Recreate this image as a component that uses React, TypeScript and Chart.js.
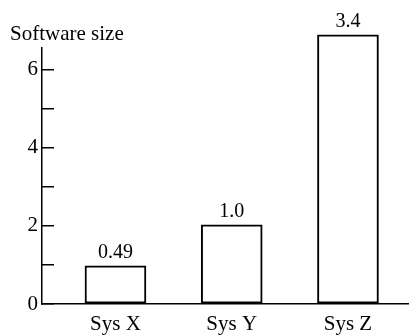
import React, { useEffect, useRef } from "react";
import { Chart, registerables } from "chart.js";
Chart.register(...registerables);

const categories = ["Sys X", "Sys Y", "Sys Z"];
const barValues = [0.98, 2.03, 6.9];
const barLabels = ["0.49", "1.0", "3.4"];
const yTickValues = [0, 1, 2, 3, 4, 5, 6];
const yTickLabelValues = [0, 2, 4, 6];
const yAxisTitle = "Software size";

export default function App() {
  const ref = useRef<HTMLCanvasElement>(null);
  useEffect(() => {
    const family = "'Liberation Serif', 'Times New Roman', serif";
    const barLabelPlugin = {
      id: "barLabels",
      afterDatasetsDraw(chart: any) {
        const ctx = chart.ctx;
        const meta = chart.getDatasetMeta(0);
        ctx.save();
        ctx.font = `20px ${family}`;
        ctx.fillStyle = "#000";
        ctx.textAlign = "center";
        ctx.textBaseline = "alphabetic";
        meta.data.forEach((el: any, i: number) => {
          ctx.fillText(barLabels[i], el.x, el.y - 8);
        });
        ctx.restore();
      },
    };
    const chart = new Chart(ref.current as HTMLCanvasElement, {
      type: "bar",
      data: {
        datasets: [
          {
            data: categories.map((c, i) => ({ x: i, y: barValues[i] })),
            backgroundColor: "#ffffff",
            borderColor: "#000000",
            borderWidth: 2,
            borderSkipped: false,
            barThickness: 61,
            clip: false as any,
          } as any,
        ],
      },
      options: {
        responsive: false,
        animation: false,
        layout: { padding: { left: 10, right: 0, top: 0, bottom: 0 } },
        plugins: {
          legend: { display: false },
          tooltip: { enabled: false },
          title: {
            display: true,
            text: yAxisTitle,
            align: "start",
            color: "#000",
            font: { family, size: 21, weight: "normal" as any },
            padding: { top: 21.5, bottom: 1.3 },
          },
        },
        scales: {
          x: {
            type: "linear",
            offset: false,
            min: -0.632,
            max: 2.525,
            afterBuildTicks: (s: any) => {
              s.ticks = categories.map((c, i) => ({ value: i }));
            },
            afterFit: (s: any) => {
              s.height = 32;
            },
            ticks: {
              autoSkip: false,
              maxRotation: 0,
              padding: 8,
              color: "#000",
              font: { family, size: 21 },
              callback: (v: any) => categories[Math.round(Number(v))] ?? "",
            },
            grid: { display: true, offset: false, drawOnChartArea: false, drawTicks: false },
            border: { color: "#000", width: 1.5 },
          },
          y: {
            min: 0,
            max: 6.56,
            afterBuildTicks: (s: any) => {
              s.ticks = yTickValues.map((v) => ({ value: v }));
            },
            afterFit: (s: any) => {
              s.width = 32;
            },
            ticks: {
              padding: 16,
              color: "#000",
              font: { family, size: 21 },
              callback: (v: any) => (yTickLabelValues.includes(Number(v)) ? String(v) : ""),
            },
            grid: {
              display: true,
              drawOnChartArea: false,
              drawTicks: true,
              tickLength: -12,
              color: "#000",
              lineWidth: 1.5,
            },
            border: { color: "#000", width: 1.5 },
          },
        },
      },
      plugins: [barLabelPlugin],
    });
    return () => chart.destroy();
  }, []);
  return (
    <div style={{ position: "absolute", left: 0, top: 0, width: 409, height: 336, background: "#fff" }}>
      <canvas ref={ref} width={409} height={336} />
    </div>
  );
}
